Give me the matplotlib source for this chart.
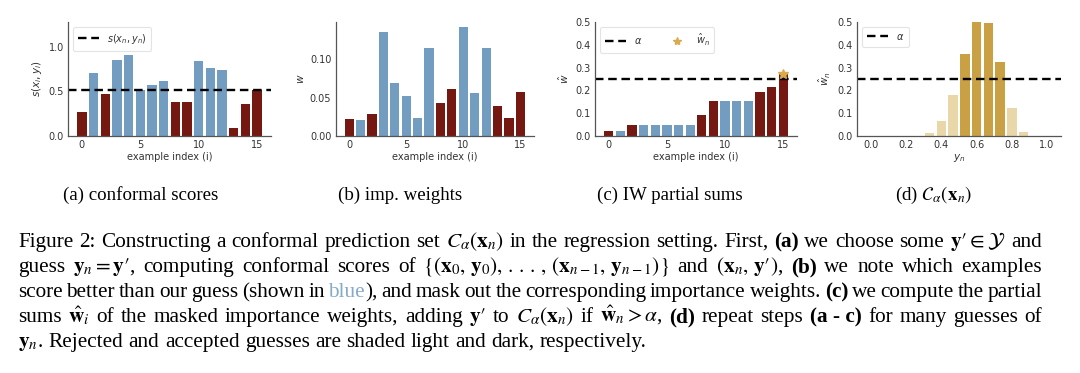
import matplotlib
matplotlib.use("Agg")
import matplotlib.pyplot as plt
from matplotlib.lines import Line2D

# ---------------- data ----------------
idx = list(range(16))
scores = [0.265, 0.705, 0.466, 0.851, 0.914, 0.522, 0.575, 0.623,
          0.38, 0.38, 0.843, 0.761, 0.743, 0.093, 0.362, 0.522]
guess_score = 0.52
masked = [1, 0, 1, 0, 0, 0, 0, 0, 1, 1, 0, 0, 0, 1, 1, 1]  # 1 = dark red, 0 = blue
weights = [0.0217, 0.021, 0.0287, 0.1357, 0.0696, 0.0517, 0.0239, 0.1143,
           0.0435, 0.0609, 0.1417, 0.0561, 0.1143, 0.0387, 0.023, 0.0574]
partial_sums = [0.021, 0.021, 0.050, 0.050, 0.050, 0.050, 0.050, 0.050,
                0.094, 0.155, 0.155, 0.155, 0.155, 0.194, 0.217, 0.274]
alpha = 0.25
w_hat_n = 0.274
y_grid = [0.0, 0.067, 0.133, 0.2, 0.267, 0.333, 0.4, 0.467,
          0.533, 0.6, 0.667, 0.733, 0.8, 0.867, 0.933, 1.0]
w_hat = [0, 0, 0, 0, 0, 0.012, 0.064, 0.181,
         0.358, 0.5, 0.496, 0.325, 0.123, 0.016, 0, 0]
accepted = [0, 0, 0, 0, 0, 0, 0, 0, 1, 1, 1, 1, 0, 0, 0, 0]

subcaptions = ["(a) conformal scores", "(b) imp. weights",
               "(c) IW partial sums", r"(d) $\mathcal{C}_\alpha(\mathbf{x}_n)$"]

P = r"\prime"
caption_lines = [
    r"Figure 2: Constructing a conformal prediction set $C_\alpha(\mathbf{x}_n)$ in the regression setting. First, **(a)** we choose some $\mathbf{y}" + P + r"\in\mathcal{Y}$ and",
    r"guess $\mathbf{y}_n=\mathbf{y}" + P + r"$, computing conformal scores of $\{(\mathbf{x}_0,\,\mathbf{y}_0),\,.\,.\,.\,,\,(\mathbf{x}_{n-1},\,\mathbf{y}_{n-1})\}$ and $(\mathbf{x}_n,\,\mathbf{y}" + P + r")$, **(b)** we note which examples",
    r"score better than our guess (shown in ~~blue~~), and mask out the corresponding importance weights. **(c)** we compute the partial",
    r"sums $\hat{\mathbf{w}}_i$ of the masked importance weights, adding $\mathbf{y}" + P + r"$ to $C_\alpha(\mathbf{x}_n)$ if $\hat{\mathbf{w}}_n>\alpha$, **(d)** repeat steps **(a - c)** for many guesses of",
    r"$\mathbf{y}_n$. Rejected and accepted guesses are shaded light and dark, respectively.",
]

# ---------------- style ----------------
RED = "#761812"
BLUE = "#729dc0"
GOLD_D = "#c9a144"
GOLD_L = "#e9d7a9"
STAR = "#d9ab4e"
TXT = "#333333"
SPINE = "#555555"

plt.rcParams["mathtext.fontset"] = "stix"
plt.rcParams["font.family"] = "DejaVu Sans"

W, H = 1080, 373
fig = plt.figure(figsize=(W / 100, H / 100), dpi=100)


def px_axes(l, r, b, t):
    return fig.add_axes([l / W, 1 - b / H, (r - l) / W, (b - t) / H])


def style(ax):
    for s in ["top", "right"]:
        ax.spines[s].set_visible(False)
    for s in ["left", "bottom"]:
        ax.spines[s].set_color(SPINE)
        ax.spines[s].set_linewidth(0.9)
    ax.tick_params(length=0, labelsize=7, colors=TXT, pad=3)


def legend(ax, handles, labels, **kw):
    lg = ax.legend(handles, labels, loc="upper left",
                   frameon=True, fancybox=True, handlelength=2.2,
                   borderpad=0.5, **kw)
    lg.get_frame().set_edgecolor("#dddddd")
    lg.get_frame().set_linewidth(0.8)
    for t in lg.get_texts():
        t.set_color(TXT)
    return lg


dash = dict(color="black", linestyle="--", linewidth=1.7, dashes=(3.6, 2.0))
LP = dict(size=7, math_fontfamily="dejavusans")
YL = dict(fontsize=7.5, color=TXT, labelpad=3, math_fontfamily="dejavusans")

# (a)
ax = px_axes(68, 271, 136, 22)
ax.bar(idx, scores, width=0.8, color=[RED if m else BLUE for m in masked], edgecolor="none")
ax.axhline(guess_score, **dash)
ax.set_ylim(0, 1.28)
ax.set_yticks([0.0, 0.5, 1.0])
ax.set_xticks([0, 5, 10, 15])
ax.set_xlabel("example index (i)", fontsize=7, color=TXT, labelpad=1)
ax.set_ylabel(r"$s(x_i, y_i)$", **YL)
style(ax)
legend(ax, [Line2D([], [], **dash)], [r"$s(x_n, y_n)$"], prop=LP)

# (b)
ax = px_axes(335.5, 534, 136, 22)
ax.bar(idx, weights, width=0.8, color=[RED if m else BLUE for m in masked], edgecolor="none")
ax.set_yticks([0.0, 0.05, 0.10])
ax.set_xticks([0, 5, 10, 15])
ax.set_xlabel("example index (i)", fontsize=7, color=TXT, labelpad=1)
ax.set_ylabel(r"$w$", **YL)
style(ax)

# (c)
ax = px_axes(595, 797, 136, 22)
ax.bar(idx, partial_sums, width=0.8, color=[RED if m else BLUE for m in masked], edgecolor="none")
ax.axhline(alpha, **dash)
ax.plot([idx[-1]], [w_hat_n], marker="*", color=STAR, markersize=7, linestyle="none", zorder=5)
ax.set_ylim(0, 0.5)
ax.set_xticks([0, 5, 10, 15])
ax.set_xlabel("example index (i)", fontsize=7, color=TXT, labelpad=1)
ax.set_ylabel(r"$\hat{w}$", **YL)
style(ax)
legend(ax, [Line2D([], [], **dash),
            Line2D([], [], marker="*", color=STAR, markersize=6, linestyle="none")],
       [r"$\alpha$", r"$\hat{w}_n$"], ncol=2, columnspacing=2.5, prop=LP)

# (d)
ax = px_axes(857, 1061, 136, 22)
ax.bar(y_grid, w_hat, width=0.0533, color=[GOLD_D if a else GOLD_L for a in accepted], edgecolor="none")
ax.axhline(alpha, **dash)
ax.set_ylim(0, 0.5)
ax.set_xticks([0.0, 0.2, 0.4, 0.6, 0.8, 1.0])
ax.set_xlabel(r"$y_n$", fontsize=7.5, color=TXT, labelpad=1, math_fontfamily="dejavusans")
ax.set_ylabel(r"$\hat{w}_n$", **YL)
style(ax)
legend(ax, [Line2D([], [], **dash)], [r"$\alpha$"], prop=LP)

# ---------------- sub captions ----------------
SERIF = "Liberation Serif"
SFS = 13.6
sub_x = [141, 400, 670, 933]
for x, s in zip(sub_x, subcaptions):
    fig.text(x / W, 1 - 200 / H, s, ha="center", va="baseline",
             fontsize=SFS, family=SERIF, color="black")

# ---------------- justified caption ----------------
FS = 15.3
renderer = fig.canvas.get_renderer()


def parse_line(s):
    words, cur, buf = [], [], ""
    st = "n"
    in_math = False
    i = 0
    while i < len(s):
        if not in_math and s.startswith("**", i):
            if buf:
                cur.append((buf, st)); buf = ""
            st = "b" if st != "b" else "n"; i += 2; continue
        if not in_math and s.startswith("~~", i):
            if buf:
                cur.append((buf, st)); buf = ""
            st = "c" if st != "c" else "n"; i += 2; continue
        c = s[i]
        if c == "$":
            in_math = not in_math
        if c == " " and not in_math and st != "b":
            if buf:
                cur.append((buf, st)); buf = ""
            if cur:
                words.append(cur); cur = []
            i += 1; continue
        buf += c; i += 1
    if buf:
        cur.append((buf, st))
    if cur:
        words.append(cur)
    return words


def make_text(seg, stl, x, y):
    kw = dict(fontsize=FS, family=SERIF, color="black", va="baseline", ha="left")
    if stl == "b":
        kw["fontweight"] = "bold"
    if stl == "c":
        kw["color"] = "#86abc6"
    return fig.text(x / W, 1 - y / H, seg, **kw)


X0, X1 = 18, 1042
baselines = [247, 272, 297, 322, 347]
t1 = make_text("a a", "n", 0, 0)
t2 = make_text("a", "n", 0, 0)
space_w = t1.get_window_extent(renderer).width - 2 * t2.get_window_extent(renderer).width
t1.remove()
t2.remove()

for li, (line, yb) in enumerate(zip(caption_lines, baselines)):
    words = parse_line(line)
    objs = []
    widths = []
    for w in words:
        segs = []
        tot = 0
        for seg, stl in w:
            t = make_text(seg, stl, 0, yb)
            wd = t.get_window_extent(renderer).width
            segs.append((t, wd))
            tot += wd
        objs.append(segs)
        widths.append(tot)
    if li < len(caption_lines) - 1:
        gap = (X1 - X0 - sum(widths)) / (len(words) - 1)
    else:
        gap = space_w
    x = X0
    for segs, wd in zip(objs, widths):
        xx = x
        for t, sw in segs:
            t.set_x(xx / W)
            xx += sw
        x += wd + gap

fig.savefig("out.png", dpi=100)
